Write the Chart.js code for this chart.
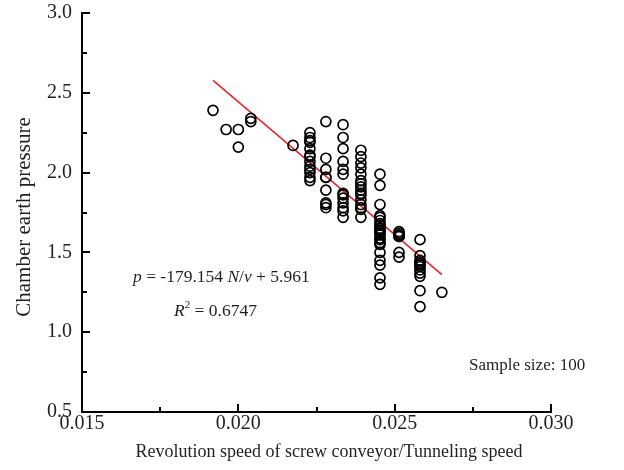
<!DOCTYPE html>
<html>
<head>
<meta charset="utf-8">
<script src="https://cdn.jsdelivr.net/npm/chart.js@4"></script>
<style>
  html, body { margin: 0; padding: 0; background: #fff; }
  #wrap { width: 624px; height: 470px; }
</style>
</head>
<body>
<div id="wrap"><canvas id="chartPressure"></canvas></div>
<script>
// Revolution speed / tunneling speed, one value per column of samples
const speedRatio = [0.01919, 0.01961, 0.02000, 0.02040, 0.02175, 0.02229, 0.02280,
                    0.02335, 0.02392, 0.02453, 0.02514, 0.02581, 0.02651];

// Chamber earth pressure samples in each column
const pressure = [
    [2.39],
    [2.27],
    [2.27, 2.16],
    [2.34, 2.32],
    [2.17],
    [2.25, 2.22, 2.20, 2.19, 2.15, 2.11, 2.10, 2.07, 2.04, 2.02, 2.00, 1.97, 1.95],
    [2.32, 2.09, 2.02, 1.97, 1.97, 1.89, 1.81, 1.80, 1.78],
    [2.30, 2.22, 2.15, 2.07, 2.02, 1.99, 1.87, 1.86, 1.84, 1.81, 1.78, 1.76, 1.72],
    [2.14, 2.10, 2.06, 2.03, 1.99, 1.95, 1.93, 1.91, 1.89, 1.87, 1.86, 1.83, 1.80, 1.78, 1.77, 1.72],
    [1.99, 1.92, 1.80, 1.73, 1.72, 1.70, 1.68, 1.67, 1.65, 1.64, 1.63, 1.62, 1.61, 1.59, 1.58,
     1.56, 1.55, 1.50, 1.45, 1.42, 1.34, 1.30],
    [1.63, 1.62, 1.61, 1.60, 1.60, 1.50, 1.47],
    [1.58, 1.48, 1.45, 1.44, 1.43, 1.42, 1.41, 1.39, 1.37, 1.35, 1.26, 1.16],
    [1.25]
];

// Regression line ends, as drawn
const fitX = [0.01919, 0.02651];
const fitY = [2.578, 1.361];

const yTicks = [0.5, 1.0, 1.5, 2.0, 2.5, 3.0];
const xTicks = [0.015, 0.020, 0.025, 0.030];

const xTitle = "Revolution speed of screw conveyor/Tunneling speed";
const yTitle = "Chamber earth pressure";
const equationText = "= -179.154 ";
const r2Text = "= 0.6747";
const sampleText = "Sample size: 100";

const serif = "'Liberation Serif', 'DejaVu Serif', serif";
const textColor = "#231f20";

const points = [];
speedRatio.forEach((x, i) => {
    pressure[i].forEach(y => points.push({ x: x, y: y }));
});
const fitLine = fitX.map((x, i) => ({ x: x, y: fitY[i] }));

const isMajor = (v, step) => Math.abs(v / step - Math.round(v / step)) < 1e-6;

// inward tick marks, axis titles and the text notes
const extras = {
    id: "extras",
    afterDraw(chart) {
        const ctx = chart.ctx;
        const area = chart.chartArea;
        const xs = chart.scales.x;
        const ys = chart.scales.y;
        ctx.save();
        ctx.strokeStyle = "#000";
        ctx.lineWidth = 2;
        ys.ticks.forEach(t => {
            const py = Math.round(ys.getPixelForValue(t.value));
            const len = isMajor(t.value, 0.5) ? 8 : 5;
            ctx.beginPath();
            ctx.moveTo(area.left, py);
            ctx.lineTo(area.left + len, py);
            ctx.stroke();
        });
        xs.ticks.forEach(t => {
            const px = Math.round(xs.getPixelForValue(t.value));
            const len = isMajor(t.value, 0.005) ? 8 : 5;
            ctx.beginPath();
            ctx.moveTo(px, area.bottom);
            ctx.lineTo(px, area.bottom - len);
            ctx.stroke();
        });

        ctx.fillStyle = textColor;
        ctx.textBaseline = "middle";

        // axis titles
        ctx.textAlign = "center";
        ctx.font = "18px " + serif;
        ctx.fillText(xTitle, 329, 452);
        ctx.save();
        ctx.translate(24, 217);
        ctx.rotate(-Math.PI / 2);
        ctx.font = "21px " + serif;
        ctx.fillText(yTitle, 0, 0);
        ctx.restore();

        ctx.textAlign = "left";
        const norm = "17.5px " + serif;
        const ital = "italic 17.5px " + serif;
        const parts = [
            [ital, "p"], [norm, " " + equationText], [ital, "N"], [norm, "/"], [ital, "v"], [norm, " + 5.961"]
        ];
        let x = 133;
        parts.forEach(p => {
            ctx.font = p[0];
            ctx.fillText(p[1], x, 277);
            x += ctx.measureText(p[1]).width;
        });
        x = 174;
        ctx.font = ital;
        ctx.fillText("R", x, 311);
        x += ctx.measureText("R").width;
        ctx.font = "11px " + serif;
        ctx.fillText("2", x, 305);
        x += ctx.measureText("2").width;
        ctx.font = norm;
        ctx.fillText(" " + r2Text, x, 311);

        ctx.font = "17px " + serif;
        ctx.fillText(sampleText, 469, 366);
        ctx.restore();
    }
};

new Chart(document.getElementById("chartPressure"), {
    type: "scatter",
    data: {
        datasets: [
            {
                label: "Samples",
                data: points,
                pointStyle: "circle",
                pointRadius: 5,
                pointBorderWidth: 1.7,
                borderColor: "#000",
                backgroundColor: "rgba(0,0,0,0)",
            },
            {
                label: "Fit",
                type: "line",
                data: fitLine,
                borderColor: "#e8262a",
                borderWidth: 1.6,
                pointRadius: 0,
                fill: false,
            }
        ]
    },
    options: {
        responsive: true,
        maintainAspectRatio: false,
        animation: false,
        layout: { padding: { left: 0, top: 13, right: 73, bottom: 0 } },
        plugins: {
            legend: { display: false },
            tooltip: { enabled: false }
        },
        scales: {
            x: {
                type: "linear",
                min: 0.015,
                max: 0.030,
                afterFit: s => {
                    s.height = 58;
                    s.paddingLeft = 0;
                    s.paddingRight = 0;
                },
                afterBuildTicks: s => {
                    s.ticks = [];
                    for (let i = 0; i <= 6; i++) s.ticks.push({ value: 0.015 + i * 0.0025 });
                },
                ticks: {
                    color: textColor,
                    font: { family: serif, size: 20 },
                    padding: 0,
                    maxRotation: 0,
                    autoSkip: false,
                    callback: v => xTicks.some(t => Math.abs(t - v) < 1e-9) ? v.toFixed(3) : ""
                },
                grid: { display: false, drawTicks: false },
                border: { display: true, color: "#000", width: 2 }
            },
            y: {
                type: "linear",
                min: 0.5,
                max: 3.0,
                afterFit: s => {
                    s.width = 82;
                    s.paddingTop = 0;
                    s.paddingBottom = 0;
                },
                afterBuildTicks: s => {
                    s.ticks = [];
                    for (let i = 0; i <= 10; i++) s.ticks.push({ value: 0.5 + i * 0.25 });
                },
                ticks: {
                    color: textColor,
                    font: { family: serif, size: 20 },
                    padding: 10,
                    autoSkip: false,
                    callback: v => yTicks.some(t => Math.abs(t - v) < 1e-9) ? v.toFixed(1) : ""
                },
                grid: { display: false, drawTicks: false },
                border: { display: true, color: "#000", width: 2 }
            }
        }
    },
    plugins: [extras]
});
</script>
</body>
</html>
